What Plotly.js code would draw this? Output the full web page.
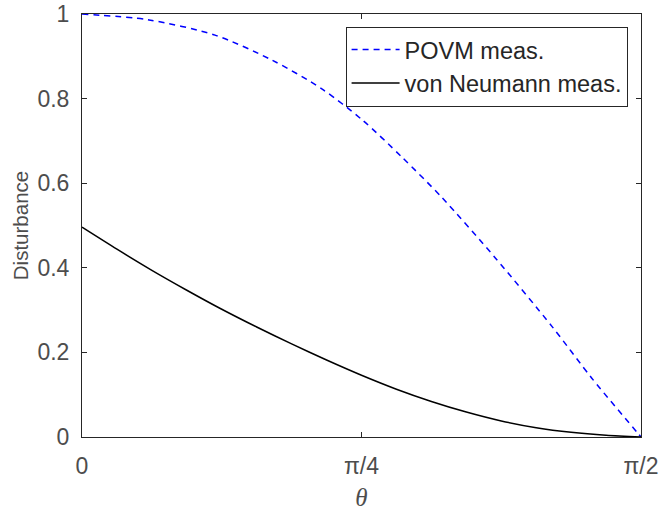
<!DOCTYPE html>
<html>
<head>
<meta charset="utf-8">
<script src="https://cdn.plot.ly/plotly-3.0.1.min.js"></script>
<style>html,body{margin:0;padding:0;background:#fff;}#chart{width:659px;height:511px;}</style>
</head>
<body>
<div id="chart"></div>
<script>
// theta given as a fraction of pi/2
var povmThetaFrac = [0, 0.12, 0.238, 0.34, 0.429, 0.501, 0.572, 0.644, 0.739, 0.841, 0.912, 0.993, 1.0];
var povm = [1.0, 0.986, 0.950, 0.891, 0.823, 0.750, 0.662, 0.566, 0.424, 0.261, 0.139, 0.011, 0.0];
var vnThetaFrac = [0, 0.0625, 0.125, 0.1875, 0.25, 0.3125, 0.375, 0.4375, 0.5, 0.5625, 0.625, 0.6875, 0.75, 0.8125, 0.875, 0.9375, 1.0];
var vonNeumann = [0.496, 0.444, 0.394, 0.347, 0.302, 0.260, 0.220, 0.182, 0.146, 0.113, 0.084, 0.059, 0.038, 0.022, 0.011, 0.004, 0.0];
var xTickFrac = [0, 0.5, 1];
var xTickText = ['0', 'π/4', 'π/2'];
var yTickVals = [0, 0.2, 0.4, 0.6, 0.8, 1];
var yTickText = ['0', '0.2', '0.4', '0.6', '0.8', '1'];
var seriesNames = ['POVM meas.', 'von Neumann meas.'];

var half = Math.PI / 2;
function toTheta(arr){ return arr.map(function(f){ return f * half; }); }

var axisColor = '#262626';
var textColor = '#4d4d4d';
var font = 'Liberation Sans, Arial, Helvetica, sans-serif';

var traces = [
  {x: toTheta(povmThetaFrac), y: povm, name: seriesNames[0], mode: 'lines',
   line: {color: '#0000ff', width: 1.5, dash: '6px,5px', shape: 'spline', smoothing: 0.8}},
  {x: toTheta(vnThetaFrac), y: vonNeumann, name: seriesNames[1], mode: 'lines',
   line: {color: '#000000', width: 1.5, shape: 'spline', smoothing: 0.8}}
];

var layout = {
  width: 659, height: 511,
  margin: {l: 82, r: 18, t: 14, b: 74},
  paper_bgcolor: '#fff', plot_bgcolor: '#fff',
  showlegend: true,
  legend: {x: 0.976, xanchor: 'right', y: 0.970, yanchor: 'top', bgcolor: '#fff', bordercolor: axisColor, borderwidth: 1,
           font: {family: font, size: 23.5, color: '#262626'}, tracegroupgap: 0, itemwidth: 48},
  xaxis: {range: [0, half], tickmode: 'array', tickvals: toTheta(xTickFrac), ticktext: xTickText,
          ticks: 'inside', ticklen: 5, tickcolor: axisColor, showline: true, linecolor: axisColor, linewidth: 1, mirror: 'ticks',
          showgrid: false, zeroline: false, tickfont: {family: font, size: 23, color: textColor}, ticklabelstandoff: 8,
          title: {text: '<i>θ</i>', font: {family: 'Liberation Serif, Times New Roman, serif', size: 25, color: textColor}, standoff: 19}},
  yaxis: {range: [0, 1], tickmode: 'array', tickvals: yTickVals, ticktext: yTickText,
          ticks: 'inside', ticklen: 5, tickcolor: axisColor, showline: true, linecolor: axisColor, linewidth: 1, mirror: 'ticks',
          showgrid: false, zeroline: false, tickfont: {family: font, size: 23, color: textColor}, ticklabelstandoff: 7,
          title: {text: 'Disturbance', font: {family: font, size: 20.5, color: textColor}, standoff: 3}}
};

Plotly.newPlot('chart', traces, layout, {displayModeBar: false, staticPlot: true});
</script>
</body>
</html>
